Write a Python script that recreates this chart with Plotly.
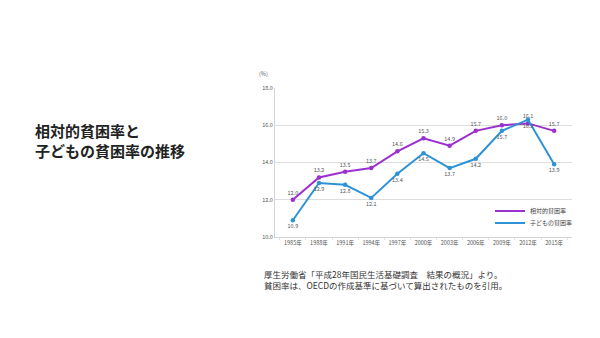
import plotly.graph_objects as go

years = ["1985年", "1988年", "1991年", "1994年", "1997年", "2000年", "2003年", "2006年", "2009年", "2012年", "2015年"]
relative_rate = [12.0, 13.2, 13.5, 13.7, 14.6, 15.3, 14.9, 15.7, 16.0, 16.1, 15.7]
child_rate = [10.9, 12.9, 12.8, 12.1, 13.4, 14.5, 13.7, 14.2, 15.7, 16.3, 13.9]
y_ticks = [10.0, 12.0, 14.0, 16.0, 18.0]

FONT = "Noto Sans CJK JP"
L, R, T, B = 275, 28, 88, 101
W, H = 600, 338
pw, ph = W - L - R, H - T - B
PURPLE = "#9b30d0"
BLUE = "#2e93d6"

def px(x):
    return (x - L) / pw

def py(y):
    return (H - B - y) / ph

fig = go.Figure()
fig.add_trace(go.Scatter(
    x=years, y=relative_rate, name="相対的貧困率", mode="lines+markers+text", showlegend=False,
    line=dict(color=PURPLE, width=2), marker=dict(size=4.5, color=PURPLE),
    text=[f"{v:.1f}" for v in relative_rate], textposition="top center",
    textfont=dict(size=5.5, color="#555555", family=FONT),
))
fig.add_trace(go.Scatter(
    x=years, y=child_rate, name="子どもの貧困率", mode="lines+markers+text", showlegend=False,
    line=dict(color=BLUE, width=2), marker=dict(size=4.5, color=BLUE),
    text=[f"{v:.1f}" for v in child_rate], textposition="bottom center",
    textfont=dict(size=5.5, color="#555555", family=FONT),
))
# legend entries (line only, as in the reference)
fig.add_trace(go.Scatter(x=[None], y=[None], name="相対的貧困率", mode="lines",
                         line=dict(color=PURPLE, width=2), legend="legend"))
fig.add_trace(go.Scatter(x=[None], y=[None], name="子どもの貧困率", mode="lines",
                         line=dict(color=BLUE, width=2), legend="legend2"))

leg_common = dict(xanchor="left", yanchor="middle",
                  font=dict(size=6, color="#444444", family=FONT),
                  bgcolor="rgba(0,0,0,0)", itemwidth=30)

fig.update_layout(
    width=W, height=H,
    margin=dict(l=L, r=R, t=T, b=B),
    paper_bgcolor="white", plot_bgcolor="white",
    font=dict(family=FONT, color="#555555"),
    showlegend=True,
    legend=dict(x=px(490), y=py(211), **leg_common),
    legend2=dict(x=px(490), y=py(223), **leg_common),
    xaxis=dict(type="category", showgrid=False, showline=True, linecolor="#d5d5d5",
               linewidth=1, ticks="outside", tickcolor="#e2e2e2", ticklen=2,
               tickson="boundaries", tickangle=0, tickfont=dict(size=5.5, color="#555555"),
               fixedrange=True),
    yaxis=dict(range=[10, 18], tickvals=y_ticks, ticktext=[f"{v:.1f}" for v in y_ticks],
               showgrid=True, gridcolor="#dddddd", gridwidth=1, zeroline=False,
               showline=True, linecolor="#d5d5d5", linewidth=1,
               tickfont=dict(size=5.5, color="#555555"), ticks="", fixedrange=True),
    annotations=[
        dict(text="<b>相対的貧困率と<br>子どもの貧困率の推移</b>", xref="paper", yref="paper",
             x=px(33), y=py(140), xanchor="left", yanchor="middle", showarrow=False, align="left",
             font=dict(size=15, color="#222222", family=FONT)),
        dict(text="(%)", xref="paper", yref="paper", x=px(263), y=py(74),
             xanchor="center", yanchor="middle", showarrow=False,
             font=dict(size=5.5, color="#555555", family=FONT)),
        dict(text="厚生労働省「平成28年国民生活基礎調査　結果の概況」より。<br>貧困率は、OECDの作成基準に基づいて算出されたものを引用。",
             xref="paper", yref="paper", x=px(262), y=py(279), xanchor="left", yanchor="middle",
             showarrow=False, align="left",
             font=dict(size=8.5, color="#333333", family=FONT)),
    ],
)

fig.write_html("out.html")
